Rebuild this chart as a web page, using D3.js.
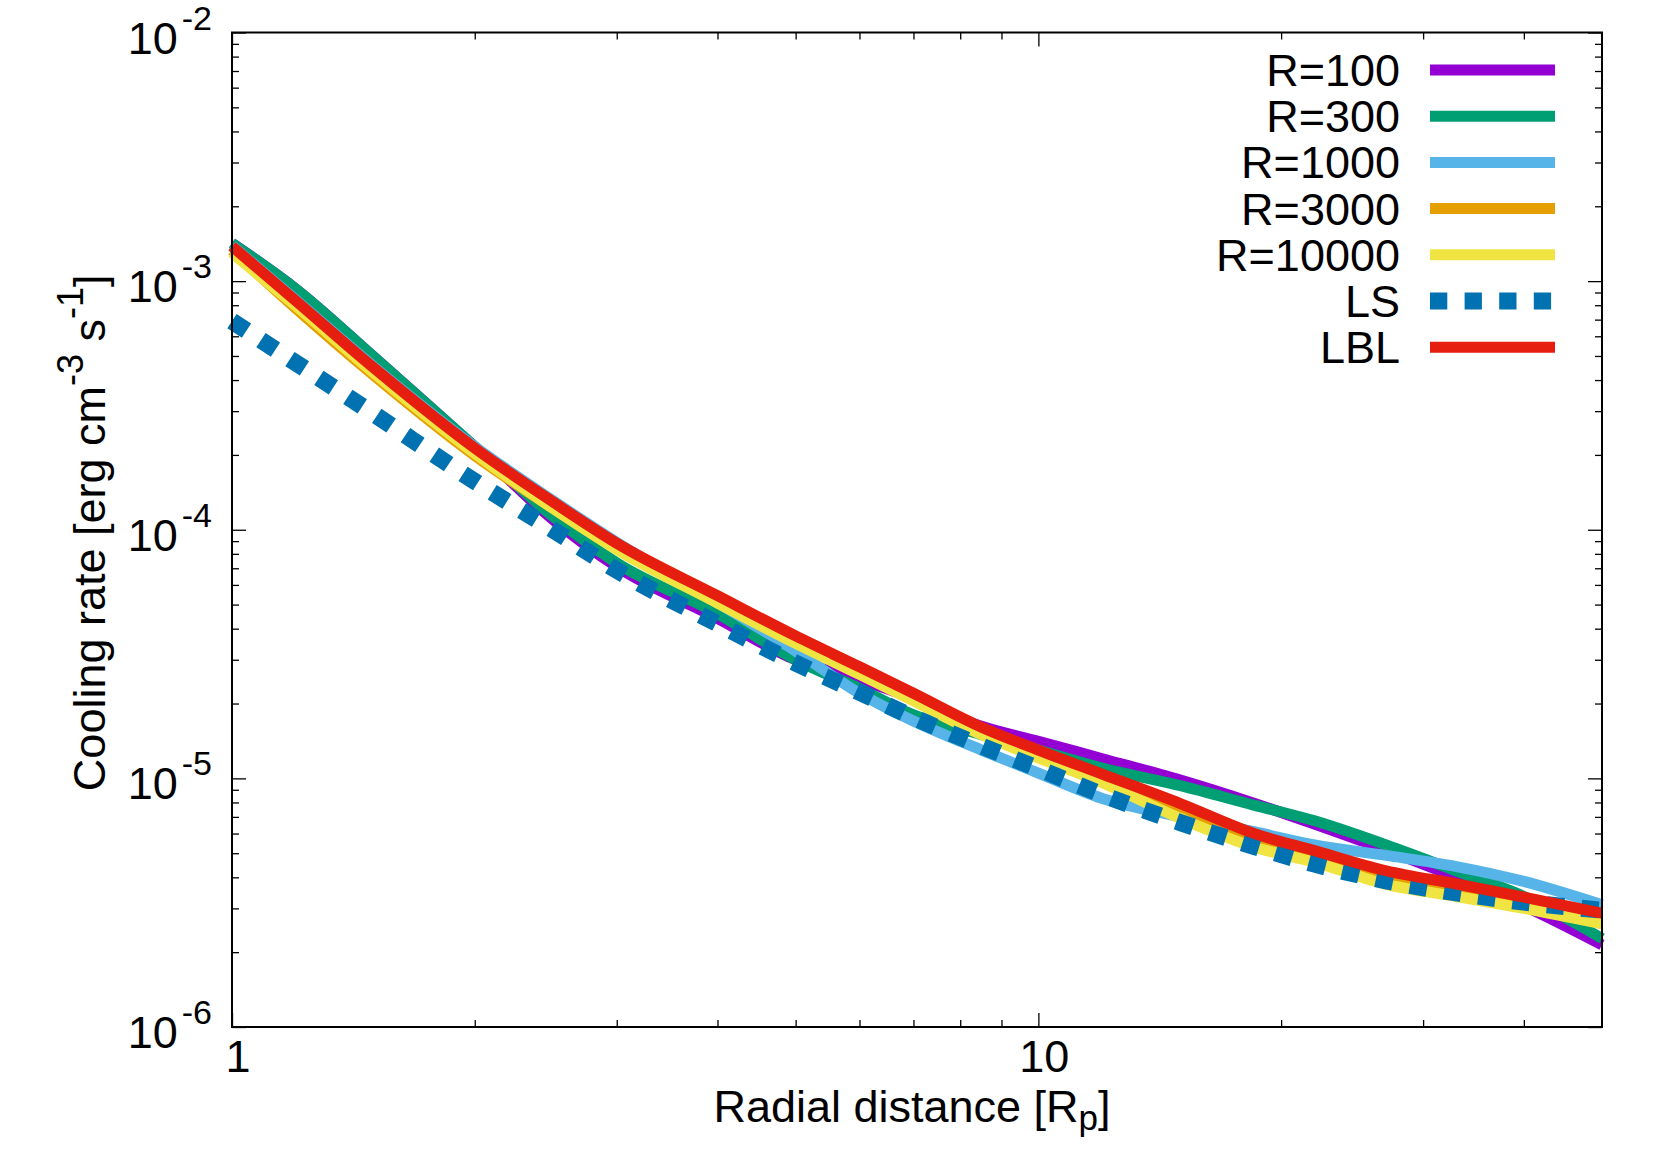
<!DOCTYPE html>
<html>
<head>
<meta charset="utf-8">
<script src="https://d3js.org/d3.v7.min.js"></script>
<style>
  body { margin: 0; background: #fff; }
  text { font-family: "Liberation Sans", Arial, sans-serif; fill: #000; }
</style>
</head>
<body>
<div id="chart"></div>
<script>
// radial grid [Rp]
const radius = [1, 1.2, 1.5, 2, 2.5, 3, 4, 5, 6, 7, 8.5, 10, 12, 15, 18.5, 22, 27, 33, 40, 50];

// cooling rate [erg cm^-3 s^-1]
const coolR100   = [1.42e-3, 9.3e-4, 4.95e-4, 2.15e-4, 1.10e-4, 7.1e-5, 4.4e-5, 3.0e-5, 2.5e-5, 2.1e-5, 1.62e-5, 1.41e-5, 1.2e-5, 9.85e-6, 7.95e-6, 6.55e-6, 5.15e-6, 4.0e-6, 3.07e-6, 2.14e-6];
const coolR300   = [1.42e-3, 9.3e-4, 4.95e-4, 2.16e-4, 1.13e-4, 7.35e-5, 4.6e-5, 3.0e-5, 2.3e-5, 1.8e-5, 1.5e-5, 1.30e-5, 1.1e-5, 9.35e-6, 7.81e-6, 6.75e-6, 5.4e-6, 4.24e-6, 3.35e-6, 2.27e-6];
const coolR1000  = [1.39e-3, 8.4e-4, 4.52e-4, 2.16e-4, 1.31e-4, 8.9e-5, 5.1e-5, 3.25e-5, 2.2e-5, 1.7e-5, 1.3e-5, 1.05e-5, 8.3e-6, 7.0e-6, 6.1e-6, 5.4e-6, 4.9e-6, 4.42e-6, 3.85e-6, 3.1e-6];
const coolR3000  = [1.33e-3, 7.77e-4, 4.17e-4, 1.99e-4, 1.22e-4, 8.4e-5, 5.2e-5, 3.58e-5, 2.69e-5, 2.11e-5, 1.54e-5, 1.25e-5, 1.0e-5, 7.2e-6, 5.6e-6, 4.85e-6, 4.0e-6, 3.52e-6, 3.15e-6, 2.75e-6];
const coolR10000 = [1.30e-3, 7.95e-4, 4.27e-4, 2.03e-4, 1.22e-4, 8.33e-5, 5.07e-5, 3.49e-5, 2.62e-5, 2.05e-5, 1.50e-5, 1.21e-5, 9.6e-6, 6.9e-6, 5.3e-6, 4.6e-6, 3.75e-6, 3.35e-6, 3.0e-6, 2.6e-6];
const coolLS     = [6.9e-4, 4.69e-4, 2.92e-4, 1.566e-4, 1.0e-4, 6.87e-5, 4.19e-5, 2.91e-5, 2.22e-5, 1.76e-5, 1.35e-5, 1.094e-5, 8.6e-6, 6.64e-6, 5.33e-6, 4.52e-6, 3.87e-6, 3.46e-6, 3.18e-6, 2.95e-6];
const coolLBL    = [1.38e-3, 8.33e-4, 4.47e-4, 2.13e-4, 1.295e-4, 8.83e-5, 5.43e-5, 3.74e-5, 2.81e-5, 2.20e-5, 1.606e-5, 1.30e-5, 1.04e-5, 7.92e-6, 6.01e-6, 5.12e-6, 4.25e-6, 3.76e-6, 3.33e-6, 2.87e-6];

const seriesNames  = ["R=100", "R=300", "R=1000", "R=3000", "R=10000", "LS", "LBL"];
const seriesValues = [coolR100, coolR300, coolR1000, coolR3000, coolR10000, coolLS, coolLBL];
const seriesColors = ["#9400d3", "#009e73", "#56b4e9", "#e69f00", "#f0e442", "#0072b2", "#e51e10"];

// tick values
const xMajorTicks = [1, 10];
const xMinorTicks = [2, 3, 4, 5, 6, 7, 8, 9, 20, 30, 40];
const yExponents = [-2, -3, -4, -5, -6];

const width = 1661, height = 1163;
const plotLeft = 232, plotRight = 1602, plotTop = 32.5, plotBottom = 1027;

const svg = d3.select("#chart")
    .append("svg")
    .attr("width", width)
    .attr("height", height)
    .style("display", "block");

const x = d3.scaleLog().domain([1, 50]).range([plotLeft, plotRight]);
const y = d3.scaleLog().domain([1e-6, 1e-2]).range([plotBottom, plotTop]);

// minor y ticks: 2..9 in each decade
let yMinorTicks = [];
for (let e = -6; e < -2; e++) {
    for (let m = 2; m <= 9; m++) yMinorTicks.push(m * Math.pow(10, e));
}
const yMajorTicks = yExponents.map(e => Math.pow(10, e));

// ticks on all four sides, pointing inwards
function drawTicks(axis, values, size, transform) {
    const g = svg.append("g")
        .attr("transform", transform)
        .call(axis.tickValues(values).tickSize(-size).tickFormat(""));
    g.select(".domain").remove();
    g.selectAll(".tick line").attr("stroke", "#000").attr("stroke-width", 1.3);
}
drawTicks(d3.axisBottom(x), xMajorTicks, 14, `translate(0,${plotBottom})`);
drawTicks(d3.axisBottom(x), xMinorTicks, 7, `translate(0,${plotBottom})`);
drawTicks(d3.axisTop(x), xMajorTicks, 14, `translate(0,${plotTop})`);
drawTicks(d3.axisTop(x), xMinorTicks, 7, `translate(0,${plotTop})`);
drawTicks(d3.axisLeft(y), yMajorTicks, 14, `translate(${plotLeft},0)`);
drawTicks(d3.axisLeft(y), yMinorTicks, 7, `translate(${plotLeft},0)`);
drawTicks(d3.axisRight(y), yMajorTicks, 14, `translate(${plotRight},0)`);
drawTicks(d3.axisRight(y), yMinorTicks, 7, `translate(${plotRight},0)`);

// tick labels
svg.selectAll(".xlabel")
    .data(xMajorTicks)
    .enter()
    .append("text")
    .attr("x", d => x(d) + 6)
    .attr("y", plotBottom + 45)
    .attr("text-anchor", "middle")
    .attr("font-size", 45)
    .text(d => d);

const yLab = svg.selectAll(".ylabel")
    .data(yExponents)
    .enter()
    .append("text")
    .attr("x", 212)
    .attr("y", d => y(Math.pow(10, d)) + 21)
    .attr("text-anchor", "end")
    .attr("font-size", 45);
yLab.append("tspan").text("10");
yLab.append("tspan").attr("dx", 4).attr("dy", -24).attr("font-size", 34).text(d => d);

// axis titles
const xt = svg.append("text")
    .attr("x", (plotLeft + plotRight) / 2 - 5)
    .attr("y", 1122)
    .attr("text-anchor", "middle")
    .attr("font-size", 45);
xt.append("tspan").text("Radial distance [R");
xt.append("tspan").attr("dy", 8).attr("font-size", 35).text("p");
xt.append("tspan").attr("dy", -8).text("]");

const yt = svg.append("text")
    .attr("transform", `translate(105,${(plotTop + plotBottom) / 2 + 3}) rotate(-90)`)
    .attr("text-anchor", "middle")
    .attr("font-size", 45);
yt.append("tspan").text("Cooling rate [erg cm");
yt.append("tspan").attr("dy", -22).attr("font-size", 36).text("-3");
yt.append("tspan").attr("dy", 22).text(" s");
yt.append("tspan").attr("dy", -22).attr("font-size", 36).text("-1");
yt.append("tspan").attr("dy", 22).text("]");

// curves
const line = d3.line()
    .curve(d3.curveMonotoneX)
    .x((d, i) => x(radius[i]))
    .y(d => y(d));

seriesValues.forEach((vals, k) => {
    const isLS = seriesNames[k] === "LS";
    svg.append("path")
        .datum(vals)
        .attr("fill", "none")
        .attr("stroke", seriesColors[k])
        .attr("stroke-width", isLS ? 17 : 11)
        .attr("stroke-dasharray", isLS ? "17.3 17.3" : null)
        .attr("stroke-linejoin", "round")
        .attr("d", line);
});

// border
svg.append("rect")
    .attr("x", plotLeft)
    .attr("y", plotTop)
    .attr("width", plotRight - plotLeft)
    .attr("height", plotBottom - plotTop)
    .attr("fill", "none")
    .attr("stroke", "#000")
    .attr("stroke-width", 2);

// legend
const legend = svg.append("g");
seriesNames.forEach((name, k) => {
    const ly = 70 + k * 46.2;
    const isLS = name === "LS";
    legend.append("text")
        .attr("x", 1400)
        .attr("y", ly + 16)
        .attr("text-anchor", "end")
        .attr("font-size", 45)
        .text(name);
    legend.append("line")
        .attr("x1", 1430)
        .attr("x2", 1555)
        .attr("y1", ly)
        .attr("y2", ly)
        .attr("stroke", seriesColors[k])
        .attr("stroke-width", isLS ? 17 : 11)
        .attr("stroke-dasharray", isLS ? "17.3 17.3" : null);
});
</script>
</body>
</html>
